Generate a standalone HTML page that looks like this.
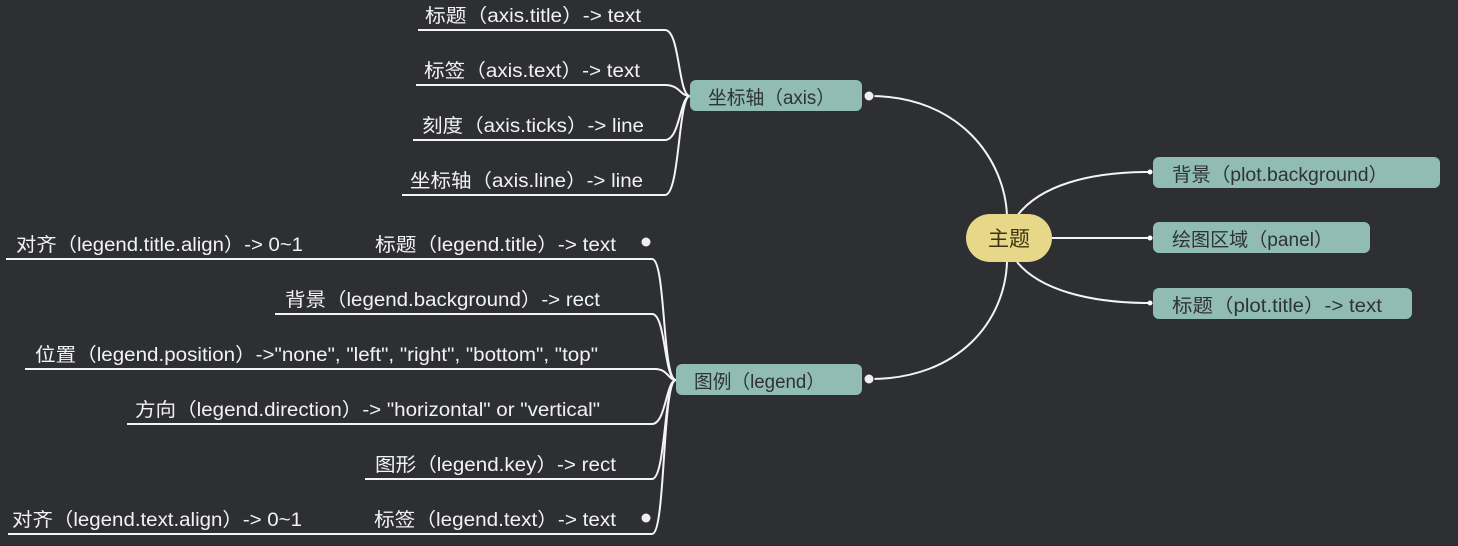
<!DOCTYPE html>
<html><head><meta charset="utf-8"><style>
html,body{margin:0;padding:0;background:#2e2f32;}
svg{display:block}
text{font-family:"Liberation Sans","Noto Sans CJK SC",sans-serif;font-size:19px;}
.w{fill:#f2f2f2}
.d{fill:#2e3333}
.l{fill:none;stroke:#f4f4f4;stroke-width:2}
</style></head><body>
<svg width="1458" height="546" viewBox="0 0 1458 546" xmlns="http://www.w3.org/2000/svg">
<rect width="1458" height="546" fill="#2e2f32"/>
<path class="l" d="M870,96 C960,96 1005,160 1007,216"/>
<path class="l" d="M870,379 C960,379 1005,320 1007,262"/>
<path class="l" d="M1017,216 C1040,185 1090,172 1150,172"/>
<path class="l" d="M1052,238 L1150,238"/>
<path class="l" d="M1017,262 C1040,290 1090,303 1150,303"/>
<circle cx="1150" cy="172" r="2.5" fill="#fff"/><circle cx="1150" cy="238" r="2.5" fill="#fff"/><circle cx="1150" cy="303" r="2.5" fill="#fff"/>
<rect x="966" y="214" width="86" height="48" rx="24" fill="#e6d888"/>
<text x="1009" y="246" text-anchor="middle" style="font-size:21px;fill:#3a3210">主题</text>
<rect x="1153" y="157" width="287" height="31" rx="6" fill="#90bcb4"/>
<text class="d" x="1172" y="181" textLength="216" lengthAdjust="spacingAndGlyphs">背景（plot.background）</text>
<rect x="1153" y="222" width="217" height="31" rx="6" fill="#90bcb4"/>
<text class="d" x="1172" y="246" textLength="161" lengthAdjust="spacingAndGlyphs">绘图区域（panel）</text>
<rect x="1153" y="288" width="259" height="31" rx="6" fill="#90bcb4"/>
<text class="d" x="1172" y="312" textLength="210" lengthAdjust="spacingAndGlyphs">标题（plot.title）-&gt; text</text>
<rect x="690" y="80" width="172" height="31" rx="6" fill="#90bcb4"/>
<text class="d" x="708" y="104" textLength="127" lengthAdjust="spacingAndGlyphs">坐标轴（axis）</text>
<circle cx="869" cy="96" r="5" fill="#eee" stroke="#2e2f32" stroke-width="1"/>
<path class="l" d="M418,30 L665,30 C680,30 678,96 690,96"/>
<path class="l" d="M416,85 L665,85 C680,85 680,96 690,96"/>
<path class="l" d="M413,140 L665,140 C680,140 680,96 690,96"/>
<path class="l" d="M402,195 L665,195 C680,195 678,96 690,96"/>
<text class="w" x="425" y="22" textLength="216" lengthAdjust="spacingAndGlyphs">标题（axis.title）-&gt; text</text>
<text class="w" x="424" y="77" textLength="216" lengthAdjust="spacingAndGlyphs">标签（axis.text）-&gt; text</text>
<text class="w" x="422" y="132" textLength="222" lengthAdjust="spacingAndGlyphs">刻度（axis.ticks）-&gt; line</text>
<text class="w" x="410" y="187" textLength="233" lengthAdjust="spacingAndGlyphs">坐标轴（axis.line）-&gt; line</text>
<rect x="676" y="364" width="186" height="31" rx="6" fill="#90bcb4"/>
<text class="d" x="694" y="388" textLength="131" lengthAdjust="spacingAndGlyphs">图例（legend）</text>
<circle cx="869" cy="379" r="5" fill="#eee" stroke="#2e2f32" stroke-width="1"/>
<path class="l" d="M6,259 L652,259 C666,259 662,380 676,380"/>
<path class="l" d="M275,314 L652,314 C666,314 664,380 676,380"/>
<path class="l" d="M25,369 L655,369 C668,369 668,380 676,380"/>
<path class="l" d="M127,424 L652,424 C666,424 666,380 676,380"/>
<path class="l" d="M365,479 L652,479 C666,479 664,380 676,380"/>
<path class="l" d="M8,534 L652,534 C666,534 662,380 676,380"/>
<text class="w" x="16" y="251" textLength="287" lengthAdjust="spacingAndGlyphs">对齐（legend.title.align）-&gt; 0~1</text>
<text class="w" x="375" y="251" textLength="241" lengthAdjust="spacingAndGlyphs">标题（legend.title）-&gt; text</text>
<circle cx="646" cy="242" r="4.5" fill="#eee"/>
<text class="w" x="285" y="306" textLength="315" lengthAdjust="spacingAndGlyphs">背景（legend.background）-&gt; rect</text>
<text class="w" x="35" y="361" textLength="563" lengthAdjust="spacingAndGlyphs">位置（legend.position）-&gt;"none", "left", "right", "bottom", "top"</text>
<text class="w" x="135" y="416" textLength="465" lengthAdjust="spacingAndGlyphs">方向（legend.direction）-&gt; "horizontal" or "vertical"</text>
<text class="w" x="375" y="471" textLength="241" lengthAdjust="spacingAndGlyphs">图形（legend.key）-&gt; rect</text>
<text class="w" x="12" y="526" textLength="290" lengthAdjust="spacingAndGlyphs">对齐（legend.text.align）-&gt; 0~1</text>
<text class="w" x="374" y="526" textLength="242" lengthAdjust="spacingAndGlyphs">标签（legend.text）-&gt; text</text>
<circle cx="646" cy="518" r="4.5" fill="#eee"/>
</svg>
</body></html>
